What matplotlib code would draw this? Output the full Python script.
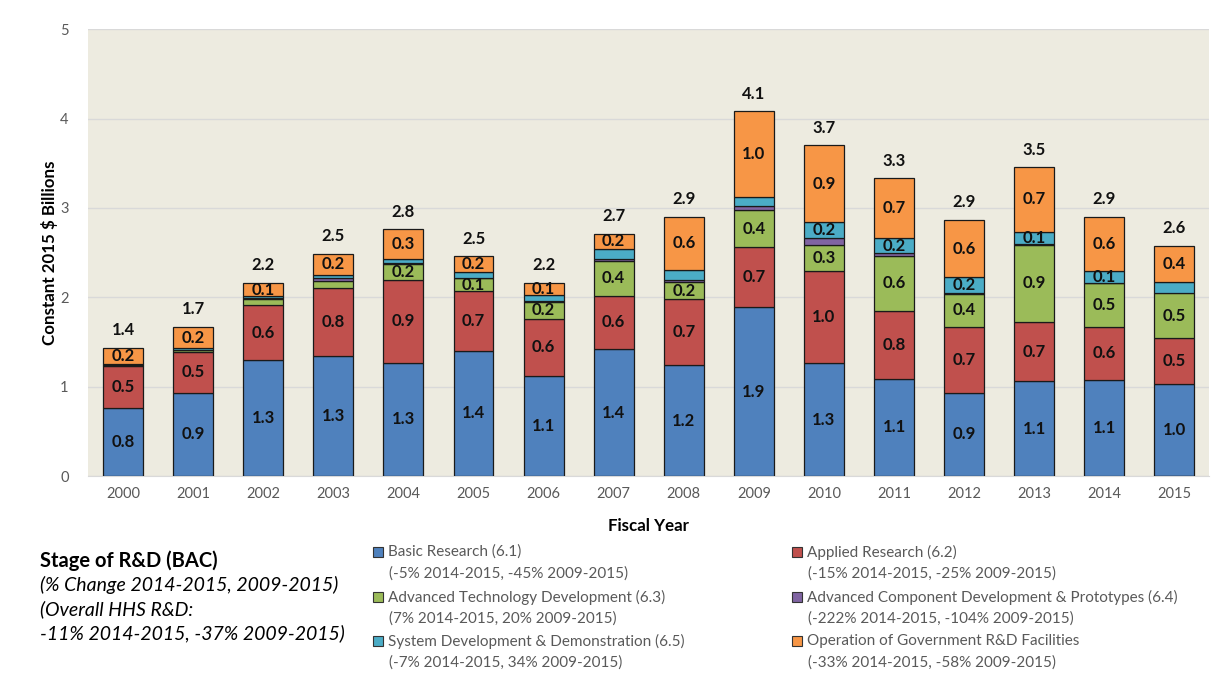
import matplotlib
matplotlib.use('Agg')
import matplotlib.pyplot as plt
from matplotlib.patches import Rectangle
import numpy as np

plt.rcParams['font.family'] = ['Lato', 'DejaVu Sans']

years = ['2000', '2001', '2002', '2003', '2004', '2005', '2006', '2007',
         '2008', '2009', '2010', '2011', '2012', '2013', '2014', '2015']

basic = [0.76, 0.93, 1.30, 1.34, 1.27, 1.40, 1.12, 1.42, 1.24, 1.89, 1.26, 1.09, 0.93, 1.06, 1.08, 1.03]
applied = [0.47, 0.46, 0.61, 0.76, 0.92, 0.67, 0.64, 0.60, 0.74, 0.67, 1.03, 0.76, 0.74, 0.66, 0.59, 0.51]
adv_tech = [0.01, 0.02, 0.075, 0.085, 0.18, 0.145, 0.19, 0.39, 0.19, 0.42, 0.30, 0.61, 0.37, 0.87, 0.49, 0.51]
adv_comp = [0.005, 0.005, 0.01, 0.035, 0.01, 0.005, 0.01, 0.02, 0.02, 0.045, 0.075, 0.04, 0.005, 0.005, 0.005, -0.01]
sys_dev = [0.01, 0.015, 0.02, 0.035, 0.05, 0.06, 0.065, 0.11, 0.12, 0.095, 0.18, 0.16, 0.18, 0.14, 0.135, 0.125]
operation = [0.18, 0.24, 0.145, 0.235, 0.33, 0.18, 0.14, 0.17, 0.59, 0.96, 0.855, 0.67, 0.64, 0.72, 0.60, 0.405]

series_names = ['Basic Research (6.1)', 'Applied Research (6.2)',
                'Advanced Technology Development (6.3)',
                'Advanced Component Development & Prototypes (6.4)',
                'System Development & Demonstration (6.5)',
                'Operation of Government R&D Facilities']
series_changes = ['(-5% 2014-2015, -45% 2009-2015)', '(-15% 2014-2015, -25% 2009-2015)',
                  '(7% 2014-2015, 20% 2009-2015)', '(-222% 2014-2015, -104% 2009-2015)',
                  '(-7% 2014-2015, 34% 2009-2015)', '(-33% 2014-2015, -58% 2009-2015)']
colors = ['#4F81BD', '#C0504D', '#9BBB59', '#8064A2', '#4BACC6', '#F79646']

series = [basic, applied, adv_tech, adv_comp, sys_dev, operation]

fig = plt.figure(figsize=(12.11, 6.81), dpi=100)
ax = fig.add_axes([0.0727, 0.301, 0.926, 0.656])
ax.set_facecolor('#EDEBE0')

x = np.arange(len(years))
pos_bottom = np.zeros(len(years))
neg_bottom = np.zeros(len(years))
for vals, col in zip(series, colors):
    vals = np.array(vals)
    bottom = np.where(vals >= 0, pos_bottom, neg_bottom)
    ax.bar(x, vals, 0.57, bottom=bottom, color=col, edgecolor='#1a1a1a',
           linewidth=0.9, zorder=3)
    for i in range(len(years)):
        if vals[i] >= 0.13:
            ax.text(x[i], bottom[i] + vals[i] / 2, f'{vals[i]:.1f}', ha='center',
                    va='center', fontsize=12, fontweight='bold', color='#111111', zorder=4)
    pos_bottom = pos_bottom + np.where(vals >= 0, vals, 0)
    neg_bottom = neg_bottom + np.where(vals < 0, vals, 0)

totals = np.sum(np.array(series), axis=0)
for i in range(len(years)):
    ax.annotate(f'{totals[i]:.1f}', (x[i], pos_bottom[i]), xytext=(0, 7),
                textcoords='offset points', ha='center', va='bottom',
                fontsize=12, fontweight='bold', color='#111111')

ax.set_xlim(-0.5, 15.5)
ax.set_ylim(0, 5)
ax.set_xticks(x)
ax.set_xticklabels(years)
ax.set_yticks(range(6))
ax.tick_params(axis='both', length=0, labelsize=10.5, labelcolor='#595959')
ax.tick_params(axis='x', pad=8)
ax.tick_params(axis='y', pad=14)
ax.grid(axis='y', color='#D9D9D9', linewidth=1, zorder=0)
for s in ['top', 'right', 'left']:
    ax.spines[s].set_visible(False)
ax.spines['bottom'].set_color('#D9D9D9')
ax.set_ylabel('Constant 2015 $ Billions', fontsize=12.2, fontweight='bold', labelpad=1.5)
ax.set_xlabel('Fiscal Year', fontsize=12.2, fontweight='bold', labelpad=12)

# left block of notes
fig.text(40 / 1211, 1 - 561 / 681, 'Stage of R&D (BAC)', fontsize=14.5, fontweight='bold',
         va='center', ha='left')
notes = ['(% Change 2014-2015, 2009-2015)', '(Overall HHS R&D:', '-11% 2014-2015, -37% 2009-2015)']
for k, t in enumerate(notes):
    fig.text(40 / 1211, 1 - (585 + 24 * k) / 681, t, fontsize=14, style='italic',
             va='center', ha='left')

# legend, two columns, row by row
col_x = [373, 792]
row_y = [552, 597, 641]
for k in range(len(series_names)):
    cx = col_x[k % 2]
    ry = row_y[k // 2]
    fig.patches.append(Rectangle((cx / 1211, 1 - (ry + 5) / 681), 10 / 1211, 10 / 681,
                                 transform=fig.transFigure, facecolor=colors[k],
                                 edgecolor='#333333', linewidth=0.8))
    fig.text((cx + 15) / 1211, 1 - ry / 681, series_names[k], fontsize=11,
             color='#595959', va='center', ha='left')
    fig.text((cx + 16) / 1211, 1 - (ry + 22) / 681, series_changes[k], fontsize=11,
             color='#595959', va='center', ha='left')

fig.savefig('out.png', dpi=100)
